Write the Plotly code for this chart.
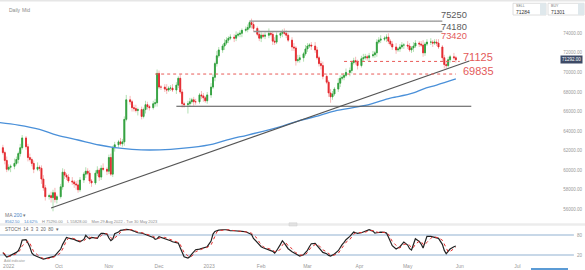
import plotly.graph_objects as go
import pandas as pd

# ---------------- data ----------------
START_DATE = "2022-08-29"   # first daily candle (business days follow)
FIRST_OPEN = 62300

closes = [
    61800, 61000, 60100, 60300, 60400, 60700, 61100, 61700, 62300, 63300,
    62400, 61300, 61100, 60700, 60100, 60300, 60200, 59100, 58200, 57300,
    57400, 57200, 57700, 57000, 57300, 58300, 59800, 59500, 59300, 58900,
    58800, 58600, 58500, 58000, 59000, 59600, 59900, 59700, 58900, 58700,
    59700, 60000, 59300, 60200, 60100, 59900, 61300, 59600, 62300, 62600,
    62900, 62700, 62900, 65200, 67200, 67000, 66400, 66300, 66100, 66200,
    65500, 66200, 66700, 66500, 66400, 66800, 66900, 69900, 68500, 68500,
    68300, 68200, 68400, 68400, 68200, 68700, 69400, 68000, 66800, 66700,
    66800, 67000, 67200, 67000, 67000, 67700, 67600, 67400, 67100, 67700,
    68500, 69500, 70900, 71700, 72300, 72700, 73000, 73300, 73500, 73600,
    73500, 73800, 73900, 74000, 74300, 74400, 74600, 75100, 74900, 74500,
    73900, 73500, 73800, 73700, 73800, 74000, 73900, 73200, 73100, 73800,
    74000, 74100, 74000, 73800, 73300, 72600, 72500, 71200, 71300, 71500,
    71900, 72400, 72700, 72800, 72700, 72300, 71500, 70900, 70700, 69600,
    69000, 67900, 67500, 67800, 68300, 68900, 69400, 69500, 69700, 70000,
    70200, 71000, 71200, 71100, 70700, 71400, 71500, 71600, 71500, 71700,
    71800, 72000, 73100, 73300, 73400, 73500, 73600, 73200, 72900, 72600,
    72300, 72400, 72600, 72800, 72800, 72700, 72300, 72500, 72700, 73000,
    72900, 72800, 72000, 72900, 73100, 73100, 73000, 73100, 73000, 72600,
    71500, 70800, 70700, 71300, 71600, 71500, 71292,
]

# upper / lower wick lengths, in hundreds of points
wick_up = [
    3, 2, 4, 3, 2, 5, 3, 2, 4, 3, 2, 3, 4, 2, 3, 5, 2, 3, 4, 3,
    2, 4, 3, 5, 2, 3, 4, 3, 2, 3, 4, 2, 3, 5, 3, 2, 4, 3, 3, 2,
    3, 4, 2, 3, 5, 2, 3, 4, 2, 3, 2, 4, 3, 3, 5, 4, 2, 3, 4, 2,
    3, 2, 4, 3, 2, 3, 4, 4, 3, 2, 3, 5, 2, 3, 4, 3, 2, 4, 3, 2,
    3, 4, 2, 3, 3, 2, 4, 3, 2, 3, 4, 3, 2, 5, 3, 2, 4, 3, 2, 3,
    3, 4, 2, 3, 2, 3, 3, 2, 4, 3, 2, 4, 3, 2, 3, 5, 2, 3, 4, 3,
    2, 3, 4, 3, 2, 3, 4, 2, 5, 3, 2, 4, 3, 2, 3, 4, 3, 2, 3, 4,
    3, 2, 4, 3, 2, 5, 3, 3, 2, 4, 3, 2, 3, 4, 2, 3, 4, 3, 2, 3,
    4, 2, 3, 3, 4, 2, 3, 4, 2, 3, 4, 2, 3, 3, 2, 4, 3, 2, 4, 3,
    2, 3, 5, 2, 3, 4, 2, 3, 3, 4, 2, 3, 4, 3, 2, 4, 2,
]
wick_dn = [
    2, 4, 3, 2, 5, 3, 2, 4, 3, 2, 3, 4, 2, 3, 4, 2, 3, 5, 3, 4,
    3, 5, 14, 3, 4, 2, 3, 4, 3, 2, 3, 4, 5, 3, 2, 3, 4, 2, 3, 4,
    2, 3, 4, 3, 2, 4, 3, 2, 3, 4, 3, 2, 3, 4, 2, 3, 4, 3, 2, 5,
    3, 2, 4, 3, 3, 2, 3, 4, 2, 3, 3, 4, 2, 3, 2, 4, 3, 2, 4, 3,
    9, 3, 2, 4, 3, 2, 3, 4, 2, 3, 3, 2, 4, 3, 2, 3, 4, 2, 3, 2,
    4, 3, 2, 3, 4, 2, 3, 2, 4, 3, 2, 3, 4, 2, 3, 3, 2, 4, 3, 2,
    3, 4, 2, 3, 2, 4, 3, 5, 2, 3, 4, 2, 3, 2, 4, 3, 2, 3, 4, 3,
    2, 4, 6, 3, 2, 3, 4, 2, 3, 2, 4, 3, 2, 3, 4, 2, 3, 2, 3, 4,
    2, 3, 4, 2, 3, 2, 4, 3, 2, 3, 4, 2, 3, 2, 4, 3, 2, 3, 4, 2,
    3, 2, 4, 3, 2, 3, 4, 2, 3, 2, 3, 4, 3, 2, 3, 2, 3,
]

stoch_k = [
    27, 19, 14, 16, 19, 24, 28, 33, 45, 65, 66, 56, 44, 26, 20, 15, 12, 10, 8, 9,
    11, 13, 15, 18, 24, 38, 52, 65, 73, 71, 69, 67, 64, 62, 60, 67, 79, 73, 69, 73,
    71, 70, 79, 85, 85, 83, 71, 63, 68, 84, 89, 94, 95, 96, 97, 96, 95, 92, 89, 87,
    86, 84, 82, 79, 77, 73, 67, 69, 75, 73, 71, 69, 66, 63, 60, 57, 56, 42, 26, 15,
    11, 15, 23, 31, 36, 38, 40, 41, 43, 45, 62, 83, 91, 94, 95, 96, 97, 96, 95, 93,
    93, 93, 93, 92, 91, 90, 88, 86, 82, 70, 57, 49, 45, 42, 40, 37, 35, 31, 26, 33,
    52, 63, 56, 48, 39, 30, 27, 24, 20, 17, 21, 27, 34, 45, 54, 55, 48, 43, 36, 28,
    24, 19, 17, 20, 23, 33, 44, 51, 58, 66, 76, 83, 89, 87, 85, 87, 89, 90, 93, 96,
    92, 86, 87, 89, 89, 88, 86, 74, 61, 48, 38, 41, 45, 52, 59, 50, 39, 35, 54, 69,
    61, 53, 41, 58, 76, 76, 74, 73, 72, 70, 52, 34, 24, 30, 38, 45, 47,
]

ma_dates = ["2022-08-26", "2022-09-07", "2022-09-20", "2022-09-30", "2022-10-13",
            "2022-10-26", "2022-11-03", "2022-11-15", "2022-11-25", "2022-12-08",
            "2022-12-21", "2023-01-03", "2023-01-13", "2023-01-24", "2023-02-14",
            "2023-02-23", "2023-03-06", "2023-03-17", "2023-04-05", "2023-04-20",
            "2023-04-25", "2023-05-04", "2023-05-10", "2023-05-18", "2023-05-30"]
ma_vals = [64900, 64620, 64180, 63600, 63090, 62580, 62340, 62140, 62070, 62140,
           62340, 62680, 63190, 63600, 64520, 65030, 65470, 66050, 66620, 67380,
           67520, 67900, 68300, 68710, 69330]

# horizontal levels: value, start, end
solid_levels = [75250, 74180, 66540]
solid_starts = ["2023-01-25", "2023-01-27", "2022-12-12"]
solid_ends = ["2023-05-22", "2023-05-22", "2023-06-07"]
solid_colors = ["#8e8e8e", "#8e8e8e", "#505050"]
solid_widths = [1.4, 1.4, 1.2]

dotted_levels = [71125, 69835]
dotted_starts = ["2023-03-23", "2022-11-29"]
dotted_ends = ["2023-06-01", "2023-05-30"]

trend_dates = ["2022-09-27", "2023-06-06"]
trend_vals = [56137, 71168]

label_texts = ["75250", "74180", "73420", "71125", "69835"]
label_dates = ["2023-05-22", "2023-05-22", "2023-05-22", "2023-06-03", "2023-06-03"]
label_prices = [75840, 74600, 73700, 71556, 70125]
label_colors = ["#5a5a5a", "#5a5a5a", "#e35a5a", "#e35a5a", "#e35a5a"]
label_sizes = [9.3, 9.3, 9.3, 11, 11]

tick_dates = ["2022-09-01", "2022-10-02", "2022-11-01", "2022-12-01", "2023-01-01",
              "2023-02-01", "2023-03-01", "2023-04-02", "2023-05-01", "2023-06-01",
              "2023-07-01", "2023-08-01"]
tick_texts = ["2022", "Oct", "Nov", "Dec", "2023", "Feb", "Mar", "Apr", "May", "Jun",
              "Jul", "Aug"]

price_ticks = [56000, 58000, 60000, 62000, 64000, 66000, 68000, 70000, 72000, 74000]
last_price = 71292
sell_price, buy_price = "71284", "71301"

# ---------------- build ----------------
dates = pd.bdate_range(START_DATE, periods=len(closes))
opens = [FIRST_OPEN] + closes[:-1]
highs = [max(o, c) + u * 100 for o, c, u in zip(opens, closes, wick_up)]
lows = [min(o, c) - d * 100 for o, c, d in zip(opens, closes, wick_dn)]
body_hi = [max(o, c) for o, c in zip(opens, closes)]
body_lo = [min(o, c) for o, c in zip(opens, closes)]
stoch_d = pd.Series(stoch_k).rolling(3, min_periods=1).mean().tolist()

saturdays = [d.strftime("%Y-%m-%d") for d in pd.date_range("2022-09-03", "2023-05-27", freq="7D")]

GREEN, RED = "#2e9e3c", "#e3262c"
PGREEN, PRED = "#b3e0b3", "#f6b9b9"

fig = go.Figure()
fig.add_trace(go.Candlestick(
    x=dates, open=opens, high=highs, low=lows, close=closes,
    increasing=dict(line=dict(color=PGREEN, width=1), fillcolor=PGREEN),
    decreasing=dict(line=dict(color=PRED, width=1), fillcolor=PRED),
    showlegend=False, hoverinfo="skip", xaxis="x", yaxis="y"))
fig.add_trace(go.Candlestick(
    x=dates, open=opens, high=body_hi, low=body_lo, close=closes,
    increasing=dict(line=dict(color=GREEN, width=0.8), fillcolor=GREEN),
    decreasing=dict(line=dict(color=RED, width=0.8), fillcolor=RED),
    showlegend=False, hoverinfo="skip", xaxis="x", yaxis="y"))

fig.add_trace(go.Scatter(x=ma_dates, y=ma_vals, mode="lines",
                         line=dict(color="#4a90d9", width=1.3, shape="spline"),
                         showlegend=False, hoverinfo="skip"))
fig.add_trace(go.Scatter(x=trend_dates, y=trend_vals, mode="lines",
                         line=dict(color="#555555", width=1.2),
                         showlegend=False, hoverinfo="skip"))
for v, s, e, c, w in zip(solid_levels, solid_starts, solid_ends, solid_colors, solid_widths):
    fig.add_trace(go.Scatter(x=[s, e], y=[v, v], mode="lines",
                             line=dict(color=c, width=w),
                             showlegend=False, hoverinfo="skip"))
for v, s, e in zip(dotted_levels, dotted_starts, dotted_ends):
    fig.add_trace(go.Scatter(x=[s, e], y=[v, v], mode="lines",
                             line=dict(color="#e85a57", width=1, dash="dot"),
                             showlegend=False, hoverinfo="skip"))

fig.add_trace(go.Scatter(x=dates, y=stoch_k, mode="lines",
                         line=dict(color="#222222", width=1.2),
                         xaxis="x2", yaxis="y2", showlegend=False, hoverinfo="skip"))
fig.add_trace(go.Scatter(x=dates, y=stoch_d, mode="lines",
                         line=dict(color="#e33030", width=1, dash="dot"),
                         xaxis="x2", yaxis="y2", showlegend=False, hoverinfo="skip"))

W, H, MB = 585, 270, 8
PH = H - MB


def px(x):
    return x / W


def py(y):
    return (PH - y) / PH


shapes = []
# stoch bands
for lvl in (80, 20):
    shapes.append(dict(type="line", xref="paper", yref="y2", x0=0, x1=0.981, y0=lvl, y1=lvl,
                       line=dict(color="#b6cbe0", width=1.5), layer="below"))
# separators and UI chrome
shapes.append(dict(type="rect", xref="paper", yref="paper", x0=0, x1=1, y0=py(225.8), y1=py(223.2),
                   fillcolor="#ececec", line=dict(width=0), layer="below"))
shapes.append(dict(type="rect", xref="paper", yref="paper", x0=0, x1=1, y0=py(1.5), y1=py(0),
                   fillcolor="#e6e6e6", line=dict(width=0)))
shapes.append(dict(type="rect", xref="paper", yref="paper", x0=px(289), x1=px(297), y0=py(226), y1=py(222.8),
                   fillcolor="#e2e2e2", line=dict(color="#cccccc", width=0.5)))
for x0, x1 in ((513, 546), (548, 584)):
    shapes.append(dict(type="rect", xref="paper", yref="paper", x0=px(x0), x1=px(x1), y0=py(15), y1=py(3.3),
                       fillcolor="white", line=dict(color="#d6d6d6", width=0.8)))
    shapes.append(dict(type="rect", xref="paper", yref="paper", x0=px(x1 - 6), x1=px(x1), y0=py(15), y1=py(3.3),
                       fillcolor="#dfe8ec", line=dict(width=0)))
shapes.append(dict(type="rect", xref="paper", yref="paper", x0=px(531), x1=px(568), y0=py(270), y1=py(268),
                   fillcolor="#5b9bd5", line=dict(width=0)))

FONT = "Liberation Sans, Arial, sans-serif"
ann = []
for t, d, p, c, s in zip(label_texts, label_dates, label_prices, label_colors, label_sizes):
    ann.append(dict(x=d, y=p, xref="x", yref="y", text=t, showarrow=False, xanchor="left",
                    yanchor="middle", xshift=-2, borderpad=0,
                    font=dict(size=s, color=c, family=FONT)))


def ptext(x, y, text, size, color="#8a8a8a"):
    ann.append(dict(x=px(x), y=py(y), xref="paper", yref="paper", text=text, showarrow=False,
                    xanchor="left", yanchor="middle", font=dict(size=size, color=color, family=FONT)))


ptext(7, 10, "Daily", 5)
ptext(20, 10, "Mid", 5)
ptext(514, 6.4, "SELL", 3.6, "#777777")
ptext(514, 11.6, sell_price, 5, "#333333")
ptext(549, 6.4, "BUY", 3.6, "#777777")
ptext(549, 11.6, buy_price, 5, "#333333")
ptext(3, 215, "MA <span style='color:#4a86c8'>200</span> ▾", 5, "#777777")
ptext(3, 221.6, "<span style='color:#4a86c8'>8562.50</span>    <span style='color:#4a86c8'>14.62%</span>"
      "    H 75290.00    L 55828.00    Mon 29 Aug 2022 - Tue 30 May 2023", 4, "#8a8a8a")
ptext(3, 229.3, "STOCH  14  3  3  20  80  ▾", 4.5, "#666666")
ptext(2, 261, "Add indicator", 3.6, "#999999")

ann.append(dict(x=0.997, y=last_price, xref="paper", yref="y", text=f"{last_price:.2f}",
                showarrow=False, xanchor="right", yanchor="middle", bgcolor="#3d4a66",
                borderpad=1, font=dict(size=4.5, color="white", family=FONT)))

xr = ["2022-08-27 12:00", "2023-08-05"]
fig.update_layout(
    width=W, height=H, margin=dict(l=0, r=0, t=0, b=MB),
    paper_bgcolor="white", plot_bgcolor="white",
    font=dict(family=FONT),
    shapes=shapes, annotations=ann,
    xaxis=dict(domain=[0, 1], range=xr, rangebreaks=[dict(values=saturdays)],
               showticklabels=False, showgrid=False, zeroline=False, anchor="y",
               rangeslider=dict(visible=False)),
    xaxis2=dict(domain=[0, 1], range=xr, rangebreaks=[dict(values=saturdays)], matches="x",
                tickmode="array", tickvals=tick_dates, ticktext=tick_texts,
                tickfont=dict(size=5, color="#999999"), showgrid=False, zeroline=False,
                ticks="", anchor="y2"),
    yaxis=dict(domain=[py(222), 1], range=[54706, 77405], side="right",
               ticklabelposition="inside", tickmode="array", tickvals=price_ticks,
               tickformat=".2f", tickfont=dict(size=4.5, color="#999999"),
               showgrid=False, zeroline=False, anchor="x"),
    yaxis2=dict(domain=[0, py(226)], range=[-0.9, 107.2], side="right",
                ticklabelposition="inside", tickmode="array", tickvals=[20, 80],
                tickfont=dict(size=4.5, color="#999999"), showgrid=False,
                zeroline=False, anchor="x2"),
)

fig.write_html("out.html")
